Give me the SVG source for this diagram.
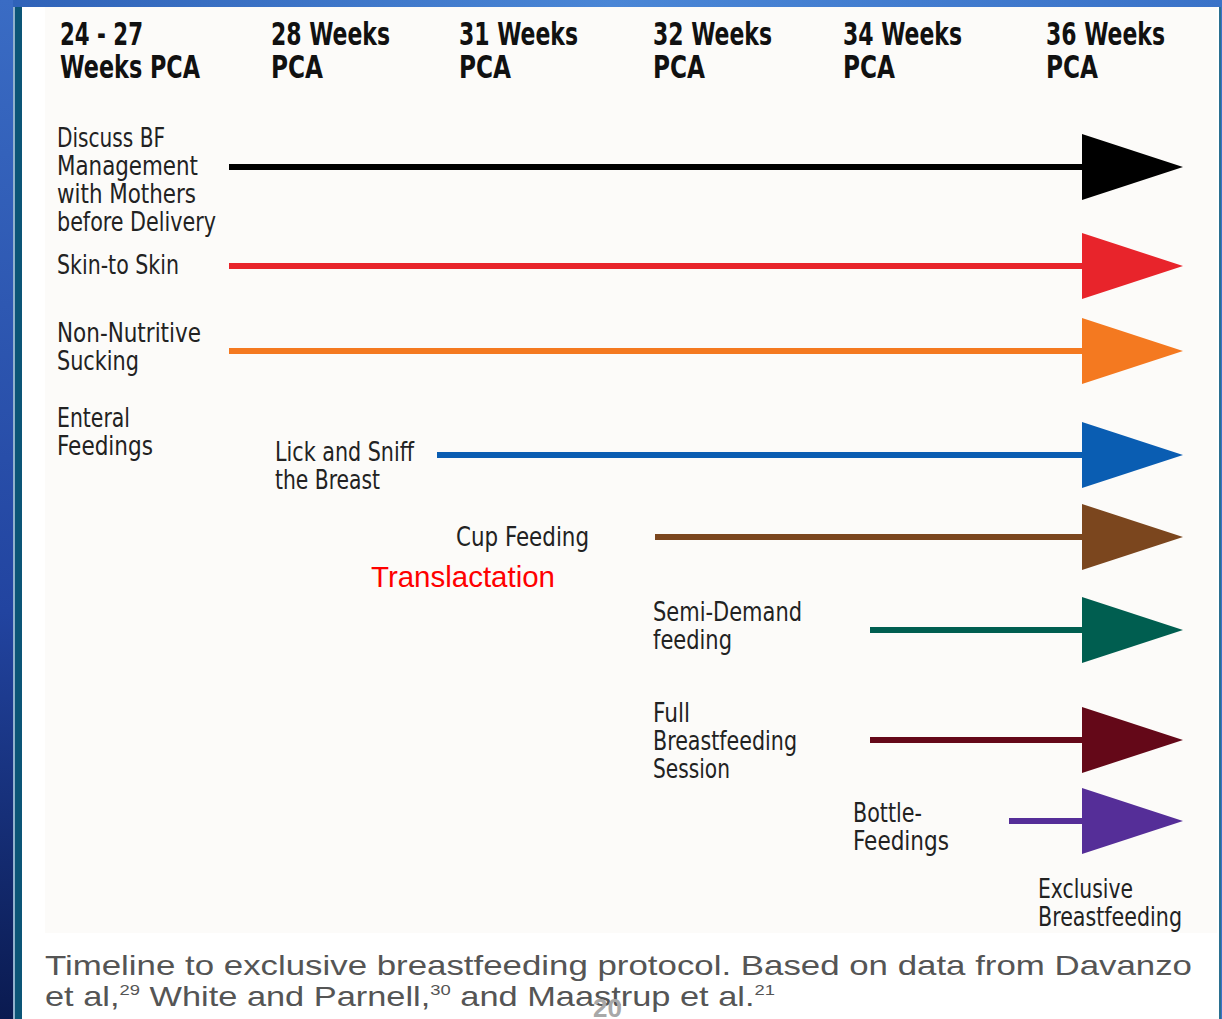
<svg xmlns="http://www.w3.org/2000/svg" width="1222" height="1019" viewBox="0 0 1222 1019">
<defs>
<linearGradient id="bg" x1="0" y1="0" x2="1" y2="0">
<stop offset="0" stop-color="#2f62b8"/><stop offset="0.5" stop-color="#4a86d6"/><stop offset="1" stop-color="#3a72c8"/>
</linearGradient>
<linearGradient id="lstripe" x1="0" y1="0" x2="0" y2="1">
<stop offset="0" stop-color="#3a6cc4"/><stop offset="0.6" stop-color="#2244a0"/><stop offset="1" stop-color="#0a1a50"/>
</linearGradient>
<style>
.hd{font-family:"DejaVu Sans Condensed","DejaVu Sans",sans-serif;font-stretch:condensed;font-size:32px;font-weight:bold;fill:#111}
.lb{font-family:"DejaVu Sans Condensed","DejaVu Sans",sans-serif;font-stretch:condensed;font-size:26px;fill:#222}
.cap{font-family:"Liberation Sans",Arial,sans-serif;font-size:28px;fill:#555}
.sup{font-size:15px}
</style>
</defs>
<rect x="0" y="0" width="1222" height="1019" fill="url(#bg)"/>
<rect x="0" y="0" width="13" height="1019" fill="url(#lstripe)"/>
<rect x="13" y="7" width="2" height="1012" fill="#8fb0cc"/>
<rect x="15" y="7" width="7" height="1012" fill="#0c5577"/>
<rect x="22" y="7" width="1197" height="1012" fill="#ffffff"/>
<rect x="1219" y="7" width="2" height="1012" fill="#2a7090"/>
<rect x="45" y="7" width="1172" height="926" fill="#fcfbf9"/>

<g id="headers">
<text class="hd" x="60" y="45" textLength="83" lengthAdjust="spacingAndGlyphs">24 - 27</text>
<text class="hd" x="60" y="78" textLength="140" lengthAdjust="spacingAndGlyphs">Weeks PCA</text>
<text class="hd" x="271" y="45" textLength="119" lengthAdjust="spacingAndGlyphs">28 Weeks</text>
<text class="hd" x="271" y="78" textLength="52" lengthAdjust="spacingAndGlyphs">PCA</text>
<text class="hd" x="459" y="45" textLength="119" lengthAdjust="spacingAndGlyphs">31 Weeks</text>
<text class="hd" x="459" y="78" textLength="52" lengthAdjust="spacingAndGlyphs">PCA</text>
<text class="hd" x="653" y="45" textLength="119" lengthAdjust="spacingAndGlyphs">32 Weeks</text>
<text class="hd" x="653" y="78" textLength="52" lengthAdjust="spacingAndGlyphs">PCA</text>
<text class="hd" x="843" y="45" textLength="119" lengthAdjust="spacingAndGlyphs">34 Weeks</text>
<text class="hd" x="843" y="78" textLength="52" lengthAdjust="spacingAndGlyphs">PCA</text>
<text class="hd" x="1046" y="45" textLength="119" lengthAdjust="spacingAndGlyphs">36 Weeks</text>
<text class="hd" x="1046" y="78" textLength="52" lengthAdjust="spacingAndGlyphs">PCA</text>
</g>

<g id="node-discuss">
<text class="lb" x="57" y="147" textLength="108" lengthAdjust="spacingAndGlyphs">Discuss BF</text>
<text class="lb" x="57" y="175" textLength="141" lengthAdjust="spacingAndGlyphs">Management</text>
<text class="lb" x="57" y="203" textLength="139" lengthAdjust="spacingAndGlyphs">with Mothers</text>
<text class="lb" x="57" y="231" textLength="159" lengthAdjust="spacingAndGlyphs">before Delivery</text>
</g>
<g id="node-skin"><text class="lb" x="57" y="274" textLength="122" lengthAdjust="spacingAndGlyphs">Skin-to Skin</text></g>
<g id="node-nns">
<text class="lb" x="57" y="342" textLength="144" lengthAdjust="spacingAndGlyphs">Non-Nutritive</text>
<text class="lb" x="57" y="370" textLength="82" lengthAdjust="spacingAndGlyphs">Sucking</text>
</g>
<g id="node-enteral">
<text class="lb" x="57" y="427" textLength="73" lengthAdjust="spacingAndGlyphs">Enteral</text>
<text class="lb" x="57" y="455" textLength="96" lengthAdjust="spacingAndGlyphs">Feedings</text>
</g>
<g id="node-lick">
<text class="lb" x="275" y="461" textLength="139" lengthAdjust="spacingAndGlyphs">Lick and Sniff</text>
<text class="lb" x="275" y="489" textLength="105" lengthAdjust="spacingAndGlyphs">the Breast</text>
</g>
<g id="node-cup"><text class="lb" x="456" y="546" textLength="133" lengthAdjust="spacingAndGlyphs">Cup Feeding</text></g>
<g id="node-trans"><text x="371" y="587" font-family="Liberation Sans,Arial,sans-serif" font-size="29" fill="#ff0000" textLength="184" lengthAdjust="spacingAndGlyphs">Translactation</text></g>
<g id="node-semi">
<text class="lb" x="653" y="621" textLength="149" lengthAdjust="spacingAndGlyphs">Semi-Demand</text>
<text class="lb" x="653" y="649" textLength="79" lengthAdjust="spacingAndGlyphs">feeding</text>
</g>
<g id="node-full">
<text class="lb" x="653" y="722" textLength="37" lengthAdjust="spacingAndGlyphs">Full</text>
<text class="lb" x="653" y="750" textLength="144" lengthAdjust="spacingAndGlyphs">Breastfeeding</text>
<text class="lb" x="653" y="778" textLength="77" lengthAdjust="spacingAndGlyphs">Session</text>
</g>
<g id="node-bottle">
<text class="lb" x="853" y="822" textLength="69" lengthAdjust="spacingAndGlyphs">Bottle-</text>
<text class="lb" x="853" y="850" textLength="96" lengthAdjust="spacingAndGlyphs">Feedings</text>
</g>
<g id="node-excl">
<text class="lb" x="1038" y="898" textLength="95" lengthAdjust="spacingAndGlyphs">Exclusive</text>
<text class="lb" x="1038" y="926" textLength="144" lengthAdjust="spacingAndGlyphs">Breastfeeding</text>
</g>

<g id="connectors">
<rect x="229" y="164" width="855" height="6" fill="#000000"/><polygon points="1082,134 1183,167 1082,200" fill="#000000"/>
<rect x="229" y="263" width="855" height="6" fill="#e8242b"/><polygon points="1082,233 1183,266 1082,299" fill="#e8242b"/>
<rect x="229" y="348" width="855" height="6" fill="#f47920"/><polygon points="1082,318 1183,351 1082,384" fill="#f47920"/>
<rect x="437" y="452" width="647" height="6" fill="#0a5db2"/><polygon points="1082,422 1183,455 1082,488" fill="#0a5db2"/>
<rect x="655" y="534" width="429" height="6" fill="#7b461e"/><polygon points="1082,504 1183,537 1082,570" fill="#7b461e"/>
<rect x="870" y="627" width="214" height="6" fill="#005e50"/><polygon points="1082,597 1183,630 1082,663" fill="#005e50"/>
<rect x="870" y="737" width="214" height="6" fill="#640818"/><polygon points="1082,707 1183,740 1082,773" fill="#640818"/>
<rect x="1009" y="818" width="75" height="6" fill="#552e98"/><polygon points="1082,788 1183,821 1082,854" fill="#552e98"/>
</g>

<g id="caption">
<text class="cap" x="45" y="975" textLength="1147" lengthAdjust="spacingAndGlyphs">Timeline to exclusive breastfeeding protocol. Based on data from Davanzo</text>
<text class="cap" x="45" y="1006" textLength="730" lengthAdjust="spacingAndGlyphs">et al,<tspan class="sup" dy="-11">29</tspan><tspan dy="11"> White and Parnell,</tspan><tspan class="sup" dy="-11">30</tspan><tspan dy="11"> and Maastrup et al.</tspan><tspan class="sup" dy="-11">21</tspan></text>
<text x="593" y="1017" font-family="Liberation Sans,Arial,sans-serif" font-size="26" font-weight="bold" fill="#a8a8a8">20</text>
</g>
</svg>
